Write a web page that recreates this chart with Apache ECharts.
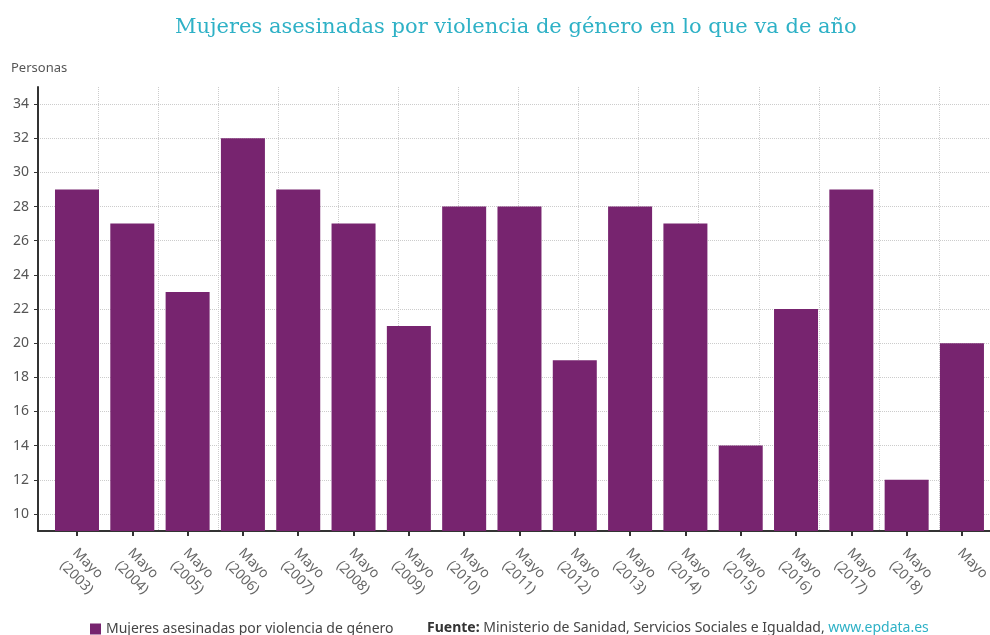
<!DOCTYPE html>
<html>
<head>
<meta charset="utf-8">
<script src="https://cdn.jsdelivr.net/npm/echarts@6/dist/echarts.min.js"></script>
<style>
  html, body { margin: 0; padding: 0; background: #fff; overflow: hidden; }
  #chart { width: 990px; height: 635px; }
</style>
</head>
<body>
<div id="chart"></div>
<script>
/* Mujeres asesinadas por violencia de género */
var categories = ['Mayo\n(2003)', 'Mayo\n(2004)', 'Mayo\n(2005)', 'Mayo\n(2006)', 'Mayo\n(2007)', 'Mayo\n(2008)',
    'Mayo\n(2009)', 'Mayo\n(2010)', 'Mayo\n(2011)', 'Mayo\n(2012)', 'Mayo\n(2013)', 'Mayo\n(2014)',
    'Mayo\n(2015)', 'Mayo\n(2016)', 'Mayo\n(2017)', 'Mayo\n(2018)', 'Mayo'];
var victimas = [29, 27, 23, 32, 29, 27, 21, 28, 28, 19, 28, 27, 14, 22, 29, 12, 20];
var yTicks = [10, 12, 14, 16, 18, 20, 22, 24, 26, 28, 30, 32, 34];

var seriesName = 'Mujeres asesinadas por violencia de género';
var purple = '#77246f';
var teal = '#2eb1c6';
var font = 'Noto Sans';

// posiciones de las barras: indice de categoria en eje de valores
var barData = [];
var xTicks = [];
for (var i = 0; i < victimas.length; i++) {
    barData.push([i, victimas[i]]);
    xTicks.push(i);
}

var chart = echarts.init(document.getElementById('chart'));

var option = {
    backgroundColor: '#fff',
    animation: false,
    title: [
        {
            text: 'Mujeres asesinadas por violencia de género en lo que va de año',
            left: 170,
            top: 12,
            textStyle: {
                color: teal,
                fontFamily: 'DejaVu Serif',
                fontWeight: 'normal',
                fontSize: 21
            }
        },
        {
            text: 'Personas',
            left: 6,
            top: 57,
            textStyle: { color: '#555', fontFamily: font, fontWeight: 'normal', fontSize: 13 }
        },
        {
            text: '{b|Fuente:} Ministerio de Sanidad, Servicios Sociales e Igualdad, {l|www.epdata.es}',
            left: 422,
            top: 616,
            textStyle: {
                color: '#444',
                fontFamily: font,
                fontWeight: 'normal',
                fontSize: 14,
                rich: {
                    b: { fontWeight: 'bold', color: '#333', fontFamily: font, fontSize: 14 },
                    l: { color: teal, fontFamily: font, fontSize: 14 }
                }
            }
        }
    ],
    legend: {
        left: 85,
        top: 617,
        icon: 'rect',
        itemWidth: 11,
        itemHeight: 11,
        itemGap: 5,
        textStyle: { color: '#444', fontFamily: font, fontSize: 14 },
        data: [seriesName]
    },
    grid: {
        left: 38,
        right: 0,
        top: 87,
        bottom: 104,
        containLabel: false,
        outerBoundsMode: 'none'
    },
    xAxis: [
        {
            type: 'value',
            min: -0.705,
            max: 16.507,
            axisLine: { show: true, onZero: false, lineStyle: { color: '#333', width: 2 } },
            axisTick: { show: true, length: 5, customValues: xTicks, lineStyle: { color: '#333', width: 2 } },
            axisLabel: {
                show: true,
                customValues: xTicks,
                showMinLabel: true,
                showMaxLabel: true,
                hideOverlap: false,
                rotate: -45,
                margin: 9,
                verticalAlign: 'top',
                padding: [0, 0, 0, 6],
                color: '#666',
                fontFamily: font,
                fontSize: 14,
                lineHeight: 18,
                formatter: function (v) {
                    return categories[Math.round(v)] || '';
                }
            },
            splitLine: { show: false }
        },
        {
            type: 'value',
            position: 'top',
            min: 0,
            max: 15.85,
            interval: 1,
            axisLine: { show: false },
            axisTick: { show: false },
            axisLabel: { show: false },
            splitLine: { show: true, lineStyle: { color: '#ccc', type: 'dotted', width: 1 } }
        }
    ],
    yAxis: {
        type: 'value',
        min: 9,
        max: 35,
        axisLine: { show: true, onZero: false, lineStyle: { color: '#333', width: 2 } },
        axisTick: { show: true, length: 4, customValues: yTicks, lineStyle: { color: '#333' } },
        axisLabel: { customValues: yTicks, color: '#555', fontFamily: font, fontSize: 14, margin: 9 },
        splitLine: { show: true, lineStyle: { color: '#ccc', type: 'dotted', width: 1 } }
    },
    series: [
        {
            name: seriesName,
            type: 'bar',
            xAxisIndex: 0,
            barWidth: 44,
            itemStyle: { color: purple },
            data: barData
        }
    ]
};

chart.setOption(option);
</script>
</body>
</html>
